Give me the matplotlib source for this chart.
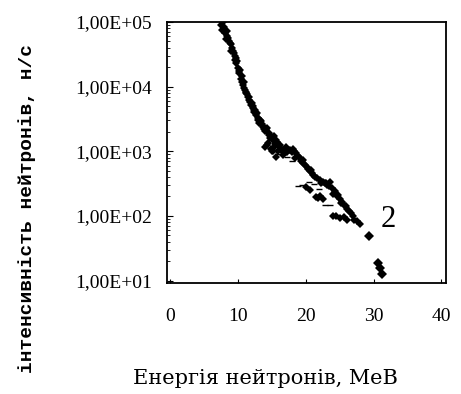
import numpy as np
import matplotlib
matplotlib.use('Agg')
import matplotlib.pyplot as plt

# neutron energy, MeV / intensity, n/s
energy = [7.8, 7.4, 7.66, 8.06, 8.4, 8.66, 8.9, 9.15, 9.4, 9.65, 9.75, 10.05,
          10.15, 10.4, 10.65, 10.9, 11.15, 11.4, 11.65, 11.9, 12.15, 12.4,
          12.65, 12.9, 13.1, 13.6, 14.1, 14.6, 14.9, 15.1, 15.4, 14.9, 15.1,
          15.9, 16.4, 16.9, 17.6, 18.1, 18.6, 19.1, 19.6, 20.1, 20.6, 21.1,
          21.6, 22.1, 22.6, 23.1, 23.6, 23.8, 24.0, 24.6, 25.1, 25.6, 26.1,
          26.6, 21.8, 22.6, 20.6, 20.0, 24.0, 25.1, 26.1, 27.1, 28.0,
          14.4, 15.6, 16.6, 13.9, 15.6, 14.2, 16.0, 17.2, 8.2, 9.0, 10.6,
          11.8, 12.5, 13.4,
          7.9, 8.3, 8.5, 8.8, 9.3, 9.5, 9.9, 10.3, 10.5, 10.8, 11.0, 11.3,
          11.6, 12.0, 12.3, 12.8, 13.2, 13.5, 13.8, 14.3, 14.7, 15.3, 15.8,
          16.2, 16.7, 17.0, 17.9, 18.3, 18.9, 19.3, 19.9, 20.3, 20.9, 21.4,
          22.3, 22.9, 23.4, 24.3, 24.8, 25.4, 25.9, 26.3, 26.9, 21.5, 22.1,
          24.4, 25.6, 27.5,
          13.0, 13.7, 14.5, 14.0, 15.0, 15.5, 16.3, 17.4, 18.4, 19.6, 12.2,
          11.2, 10.2, 9.6, 20.8, 23.0, 25.2]
intensity = [1.0e5, 9.1e4, 7.6e4, 6.8e4, 6.0e4, 5.0e4, 4.5e4, 4.0e4, 3.3e4,
             2.8e4, 2.3e4, 1.95e4, 1.6e4, 1.3e4, 1.07e4, 9.5e3, 8.0e3, 7.0e3,
             6.3e3, 5.2e3, 4.7e3, 4.1e3, 3.7e3, 3.3e3, 2.7e3, 2.4e3, 2.1e3,
             1.9e3, 1.7e3, 1.5e3, 1.3e3, 1.1e3, 1.0e3, 1.0e3, 1.1e3, 1.1e3,
             1.05e3, 1.1e3, 9.3e2, 7.8e2, 6.6e2, 5.8e2, 4.9e2, 4.3e2, 3.8e2,
             3.6e2, 3.4e2, 3.0e2, 3.4e2, 2.7e2, 2.2e2, 2.0e2, 1.8e2, 1.5e2,
             1.3e2, 1.1e2, 1.9e2, 1.8e2, 2.5e2, 2.8e2, 98, 92, 87, 87, 76,
             1.35e3, 8.3e2, 8.9e2, 2.05e3, 1.5e3, 1.25e3, 1.2e3, 9.8e2, 5.5e4,
             3.6e4, 1.2e4, 5.8e3, 4.4e3, 2.9e3,
             8.5e4, 7.2e4, 5.6e4, 4.8e4, 3.6e4, 3.0e4, 2.5e4, 1.8e4, 1.45e4,
             1.2e4, 8.8e3, 7.6e3, 6.8e3, 5.5e3, 4.4e3, 3.9e3, 3.0e3, 2.6e3,
             2.2e3, 2.3e3, 1.6e3, 1.7e3, 1.4e3, 1.25e3, 1.0e3, 1.15e3, 9.8e2,
             1.0e3, 8.6e2, 7.0e2, 6.2e2, 5.3e2, 4.6e2, 4.0e2, 3.2e2, 3.2e2,
             2.9e2, 2.4e2, 2.1e2, 1.65e2, 1.4e2, 1.2e2, 1.0e2, 1.95e2, 2.0e2,
             1.0e2, 95, 82,
             3.1e3, 2.5e3, 1.8e3, 1.15e3, 1.0e3, 1.2e3, 1.05e3, 1.05e3,
             8.0e2, 7.2e2, 5.0e3, 8.4e3, 1.75e4, 2.6e4, 5.1e2, 3.2e2, 1.6e2]

# faint specks inside the band
speck_energy = [18.8, 19.4, 20.4, 21.2, 22.0, 17.2, 18.0, 16.0, 23.5, 22.8]
speck_intensity = [2.9e2, 3.0e2, 3.3e2, 3.1e2, 2.6e2, 8.2e2, 7.0e2, 9.0e2,
                   1.5e2, 1.45e2]

# the few separate points at the tail
tail_energy = [29.3, 30.6, 31.0, 31.3]
tail_intensity = [48, 19, 15.5, 12.4]

yticks = [1e1, 1e2, 1e3, 1e4, 1e5]
ytick_labels = ['1,00E+01', '1,00E+02', '1,00E+03', '1,00E+04', '1,00E+05']
xticks = [0, 10, 20, 30, 40]

serif = 'Liberation Serif'

fig = plt.figure(figsize=(4.61, 3.94), dpi=100)
ax = fig.add_axes([0.3623, 0.2817, 0.6052, 0.6624])

ax.plot(energy, intensity, 'D', color='black', markersize=4, markeredgewidth=0)
ax.plot(speck_energy, speck_intensity, '_', color='black', markersize=4,
        markeredgewidth=1)
ax.plot(tail_energy, tail_intensity, 'D', color='black', markersize=5.5,
        markeredgewidth=0)
ax.text(31.0, 89, '2', fontsize=22, family=serif, va='center', ha='left')

ax.set_yscale('log')
ax.set_xlim(-0.5, 40.7)
ax.set_ylim(9.15, 1.0e5)
ax.set_xticks(xticks)
ax.set_xticklabels([str(v) for v in xticks], family=serif, fontsize=14)
ax.set_yticks(yticks)
ax.set_yticklabels(ytick_labels, family=serif, fontsize=14)
ax.tick_params(axis='x', direction='in', length=3, pad=18)
ax.tick_params(axis='y', which='major', direction='in', length=4, pad=11)
ax.tick_params(axis='y', which='minor', direction='in', length=2)
for s in ax.spines.values():
    s.set_linewidth(1.3)

fig.text(0.576, 0.04, 'Енергія нейтронів, MeB', family='DejaVu Serif',
         fontsize=15, ha='center', va='center')
fig.text(0.059, 0.47, 'інтенсивність нейтронів, н/с', family='Liberation Mono',
         fontweight='bold', fontsize=14, rotation=90, ha='center', va='center')

fig.savefig('out.png', dpi=100)
